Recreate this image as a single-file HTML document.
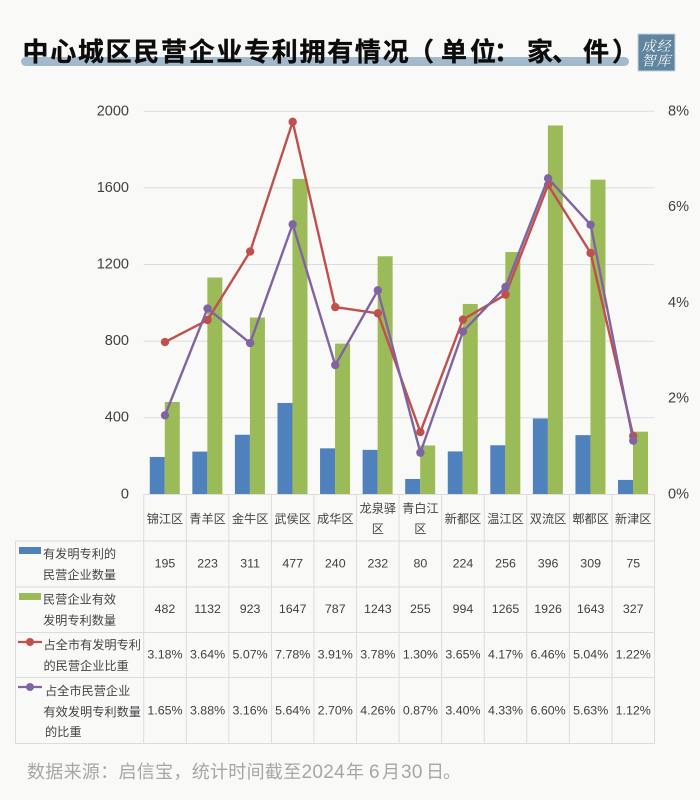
<!DOCTYPE html>
<html lang="zh">
<head>
<meta charset="utf-8">
<title>中心城区民营企业专利拥有情况</title>
<style>
html,body{margin:0;padding:0;background:#f9f9f8;}
body{width:700px;height:800px;overflow:hidden;}
svg{display:block;font-family:"Liberation Sans","Noto Sans CJK SC",sans-serif;}
.cjk{font-family:"Noto Sans CJK SC","Liberation Sans",sans-serif;}
</style>
</head>
<body>
<svg id="chart" xmlns="http://www.w3.org/2000/svg" width="700" height="800" viewBox="0 0 700 800">
  <rect x="0" y="0" width="700" height="800" fill="#f9f9f8"/>
  <rect x="21" y="57" width="608" height="9" rx="4.5" fill="#a3b9cc"/>
  <text class="cjk" y="61" font-size="26" font-weight="700" fill="#0c0c0c" stroke="#0c0c0c" stroke-width="0.35"><tspan x="22.5" letter-spacing="1.7">中心城区民营企业专利拥有情况</tspan><tspan x="408">（</tspan><tspan x="441" letter-spacing="3">单位</tspan><tspan x="494">：</tspan><tspan x="527">家</tspan><tspan x="552">、</tspan><tspan x="583">件</tspan><tspan x="612">）</tspan></text>
  <g>
    <rect x="638" y="34" width="37" height="37" fill="#5f859f" stroke="#c5d2dc" stroke-width="1"/>
    <text x="656.5" y="51" text-anchor="middle" font-size="14" font-style="italic" fill="#f4f6f8" style="font-family:'Noto Serif CJK SC',serif" letter-spacing="1">成经</text>
    <text x="656.5" y="65.5" text-anchor="middle" font-size="14" font-style="italic" fill="#f4f6f8" style="font-family:'Noto Serif CJK SC',serif" letter-spacing="1">智库</text>
  </g>
  <g id="grid"></g>
  <g id="bars"></g>
  <g id="lines"></g>
  <g id="axes"></g>
  <g id="table"></g>
  <g>
    <rect x="19" y="547" width="22" height="7" fill="#4f81bd"/>
    <rect x="19" y="593" width="22" height="7" fill="#9bbb59"/>
    <line x1="18" y1="642" x2="42" y2="642" stroke="#c0504d" stroke-width="2.2"/>
    <circle cx="30" cy="642" r="4" fill="#c0504d"/>
    <line x1="18" y1="687" x2="42" y2="687" stroke="#8064a2" stroke-width="2.2"/>
    <circle cx="30" cy="687" r="4" fill="#8064a2"/>
  </g>
  <g class="cjk" font-size="12.2" fill="#444">
    <text x="43" y="553" dominant-baseline="central">有发明专利的</text>
    <text x="43" y="574" dominant-baseline="central">民营企业数量</text>
    <text x="43" y="598.5" dominant-baseline="central">民营企业有效</text>
    <text x="43" y="619.5" dominant-baseline="central">发明专利数量</text>
    <text x="43.5" y="644" dominant-baseline="central">占全市有发明专利</text>
    <text x="43.5" y="665" dominant-baseline="central">的民营企业比重</text>
    <text x="45" y="690" dominant-baseline="central">占全市民营企业</text>
    <text x="43.5" y="711" dominant-baseline="central">有效发明专利数量</text>
    <text x="45" y="731" dominant-baseline="central">的比重</text>
  </g>
  <text class="cjk" x="27" y="778" font-size="18" letter-spacing="0.3" fill="#a6a6a6">数据来源：启信宝，统计时间截至<tspan font-size="19" style="font-family:'Liberation Sans',sans-serif">2024</tspan><tspan x="346">年</tspan><tspan x="369" font-size="19" style="font-family:'Liberation Sans',sans-serif">6</tspan><tspan x="382">月</tspan><tspan x="401" font-size="19" style="font-family:'Liberation Sans',sans-serif">30</tspan><tspan x="426">日</tspan><tspan x="443">。</tspan></text>
</svg>
<script>
const categories = ["锦江区","青羊区","金牛区","武侯区","成华区","龙泉驿区","青白江区","新都区","温江区","双流区","郫都区","新津区"];
const companies = [195,223,311,477,240,232,80,224,256,396,309,75];
const patents = [482,1132,923,1647,787,1243,255,994,1265,1926,1643,327];
const companyShare = [3.18,3.64,5.07,7.78,3.91,3.78,1.30,3.65,4.17,6.46,5.04,1.22];
const patentShare = [1.65,3.88,3.16,5.64,2.70,4.26,0.87,3.40,4.33,6.60,5.63,1.12];
const leftTicks = [0,400,800,1200,1600,2000];
const rightTicks = [0,2,4,6,8];

const NS = 'http://www.w3.org/2000/svg';
const plotLeft = 143.7, plotRight = 654.5, plotTop = 111.3, plotBottom = 494.3;
const leftMax = 2000, rightMax = 8;
const band = (plotRight - plotLeft) / categories.length;
function xBand(i){ return plotLeft + band * i; }
function xCenter(i){ return xBand(i) + band / 2; }
function yLeft(v){ return plotBottom - (plotBottom - plotTop) * v / leftMax; }
function yRight(v){ return plotBottom - (plotBottom - plotTop) * v / rightMax; }
function make(tag, parent){
  const el = document.createElementNS(NS, tag);
  parent.appendChild(el);
  return el;
}
function setAll(el, map){
  for (const k in map) el.setAttribute(k, map[k]);
  return el;
}
const grid = document.getElementById('grid');
const bars = document.getElementById('bars');
const lines = document.getElementById('lines');
const axes = document.getElementById('axes');
const table = document.getElementById('table');

leftTicks.forEach(function(t){
  if (t > 0) {
    const g = make('line', grid);
    
    
    setAll(g, {x1:plotLeft, x2:plotRight, y1:yLeft(t), y2:yLeft(t), stroke:'#dcdcdc', 'stroke-width':1});
  }
  const lab = make('text', axes);
  
  
  setAll(lab, {x:129, y:yLeft(t), 'text-anchor':'end', 'dominant-baseline':'central', 'font-size':14.5, fill:'#404040'});
  lab.textContent = String(t);
});
rightTicks.forEach(function(t){
  const lab = make('text', axes);
  
  
  setAll(lab, {x:668, y:yRight(t), 'dominant-baseline':'central', 'font-size':14.5, fill:'#404040'});
  lab.textContent = t + '%';
});

categories.forEach(function(c, i){
  const cx = xCenter(i);
  const b1 = make('rect', bars);
  
  
  setAll(b1, {x:cx - 15.2, y:yLeft(companies[i]), width:15, height:plotBottom - yLeft(companies[i]), fill:'#4f81bd'});
  const b2 = make('rect', bars);
  
  
  setAll(b2, {x:cx - 0.2, y:yLeft(patents[i]), width:15, height:plotBottom - yLeft(patents[i]), fill:'#9bbb59'});
});

function drawLine(values, color, name){
  const pl = make('polyline', lines);
  
  
  setAll(pl, {points:values.map(function(v, i){ return xCenter(i) + ',' + yRight(v); }).join(' '), fill:'none', stroke:color, 'stroke-width':2.4, 'stroke-linejoin':'round'});
  values.forEach(function(v, i){
    const dot = make('circle', lines);
    
    
    setAll(dot, {cx:xCenter(i), cy:yRight(v), r:4.2, fill:color});
  });
}
drawLine(companyShare, '#c0504d', 'company-share');
drawLine(patentShare, '#8064a2', 'patent-share');

const tableLeft = 15.5;
const rowEdges = [494.5, 541, 587, 632.5, 677.5, 743.5];
rowEdges.forEach(function(y, r){
  const ln = make('line', table);
  
  
  setAll(ln, {x1:r === 0 ? plotLeft : tableLeft, x2:plotRight, y1:y, y2:y, stroke:'#dcdcdc', 'stroke-width':1});
});
for (let i = 0; i <= categories.length; i++) {
  const ln = make('line', table);
  
  
  setAll(ln, {x1:xBand(i), x2:xBand(i), y1:rowEdges[0], y2:rowEdges[5], stroke:'#dcdcdc', 'stroke-width':1});
}
const leftEdge = make('line', table);


setAll(leftEdge, {x1:tableLeft, x2:tableLeft, y1:rowEdges[1], y2:rowEdges[5], stroke:'#dcdcdc', 'stroke-width':1});

categories.forEach(function(c, i){
  const parts = c.length > 3 ? [c.slice(0, 3), c.slice(3)] : [c];
  parts.forEach(function(p, k){
    const t = make('text', table);
    
    
    const y = parts.length === 1 ? 518 : (k === 0 ? 507.5 : 528);
    setAll(t, {x:xCenter(i), y:y, 'text-anchor':'middle', 'dominant-baseline':'central', 'font-size':12.2, fill:'#444', 'class':'cjk'});
    t.textContent = p;
  });
  const cells = [
    [String(companies[i]), 563.5],
    [String(patents[i]), 609],
    [companyShare[i].toFixed(2) + '%', 654.5],
    [patentShare[i].toFixed(2) + '%', 710.5]
  ];
  cells.forEach(function(cell){
    const t = make('text', table);
    
    
    setAll(t, {x:xCenter(i), y:cell[1], 'text-anchor':'middle', 'dominant-baseline':'central', 'font-size':12.4, fill:'#404040'});
    t.textContent = cell[0];
  });
});
</script>
</body>
</html>
